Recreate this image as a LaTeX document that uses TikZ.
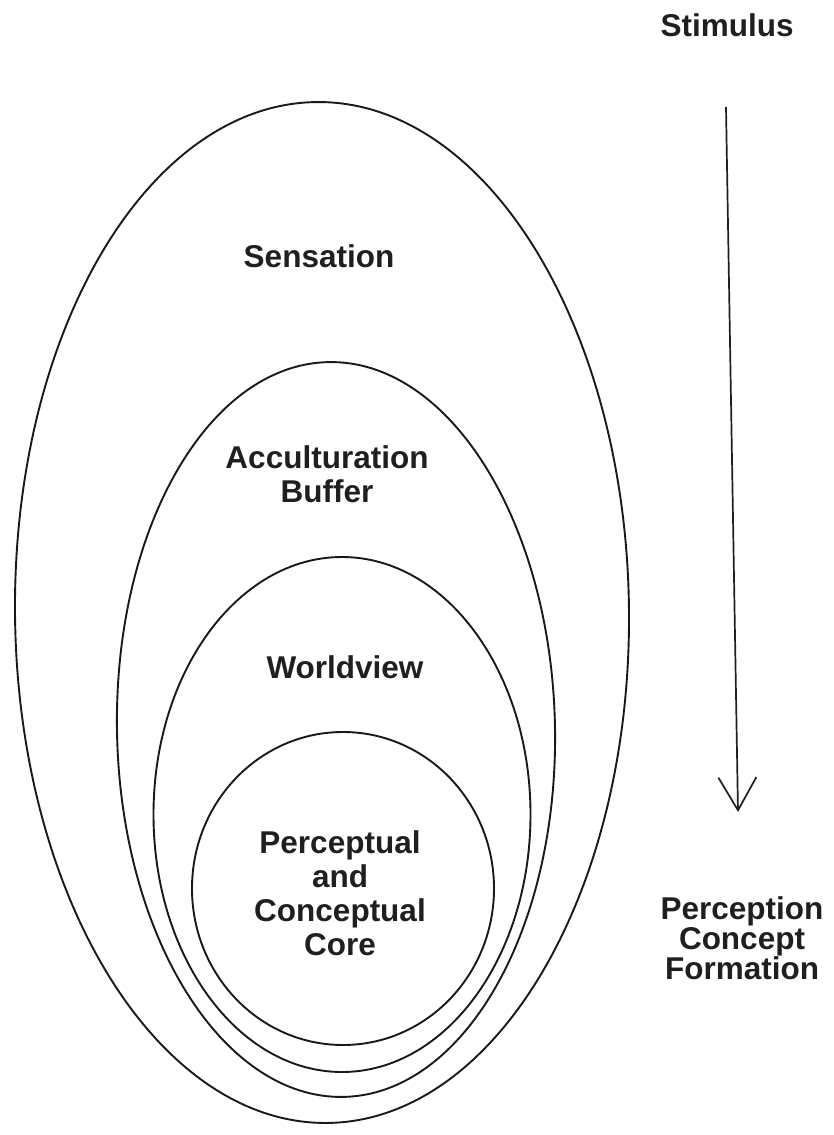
\documentclass[tikz,border=0pt]{standalone}
\usepackage{fontspec}
\setmainfont{Liberation Sans}
\usetikzlibrary{arrows.meta}
\begin{document}
\begin{tikzpicture}[x=1pt,y=-1pt,
  ring/.style={draw=black!90,line width=1.9pt},
  lbl/.style={font=\fontsize{31.5}{34}\selectfont\bfseries,text=black!88,align=center,inner sep=0pt},
  rlbl/.style={font=\fontsize{31.5}{30}\selectfont\bfseries,text=black!88,align=center,inner sep=0pt},
  flow/.style={draw=black!88,line width=1.7pt,-{Straight Barb[length=33pt,width=38pt,line width=1.7pt]}}]
\useasboundingbox[fill=white] (0,0) rectangle (833,1135);
% nested ellipses
\draw[ring,rotate around={0.6:(322,612.5)}] (322,612.5) ellipse [x radius=307,y radius=510.5];
\draw[ring,rotate around={1.2:(336,729.5)}] (336,729.5) ellipse [x radius=219,y radius=367.5];
\draw[ring] (342,814.5) ellipse [x radius=188.5,y radius=257.5];
\draw[ring] (343,888.5) ellipse [x radius=151,y radius=156.5];
% labels
\node[lbl] (sens) at (319,256) {Sensation};
\node[lbl] (acc) at (327,474) {Acculturation\\Buffer};
\node[lbl] (wv) at (345,667) {Worldview};
\node[lbl] (core) at (340,893) {Perceptual\\and\\Conceptual\\Core};
\node[lbl] (stim) at (727,25) {Stimulus};
\node[rlbl] (perc) at (742,938) {Perception\\Concept\\Formation};
% arrow
\coordinate (atop) at (726,107);
\coordinate (atip) at (738,812);
\draw[flow] (atop) -- (atip);
\end{tikzpicture}
\end{document}
